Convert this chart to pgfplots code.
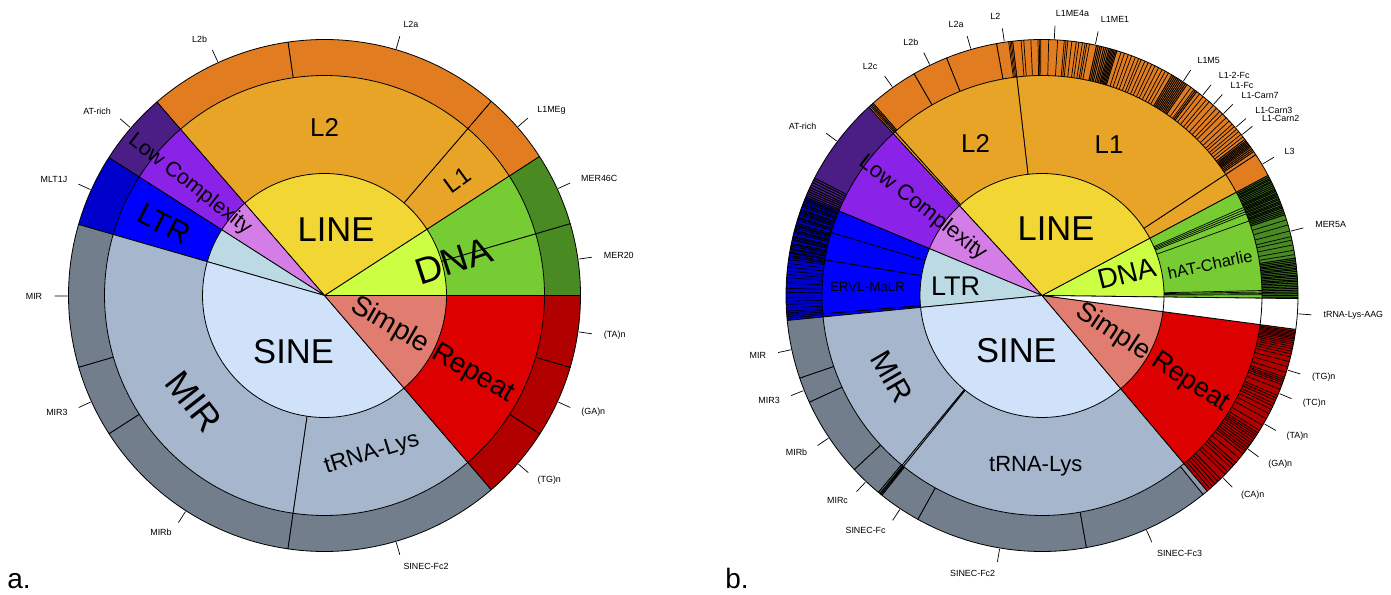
\documentclass[border=0pt]{standalone}
\usepackage{pgfplots}
\pgfplotsset{compat=1.18}
\usepackage{fontspec}
\setmainfont{Liberation Sans}
\definecolor{lineA}{RGB}{242,214,52}
\definecolor{lineB}{RGB}{232,164,39}
\definecolor{lineC}{RGB}{225,125,32}
\definecolor{dnaA}{RGB}{204,255,68}
\definecolor{dnaB}{RGB}{118,204,50}
\definecolor{dnaC}{RGB}{74,138,34}
\definecolor{srA}{RGB}{225,125,112}
\definecolor{srB}{RGB}{220,0,0}
\definecolor{srC}{RGB}{176,0,0}
\definecolor{sineA}{RGB}{207,226,250}
\definecolor{sineB}{RGB}{166,182,204}
\definecolor{sineC}{RGB}{114,126,140}
\definecolor{sineD}{RGB}{140,154,171}
\definecolor{ltrA}{RGB}{188,218,228}
\definecolor{ltrB}{RGB}{0,0,255}
\definecolor{ltrC}{RGB}{0,0,205}
\definecolor{lowA}{RGB}{213,125,230}
\definecolor{lowB}{RGB}{138,34,232}
\definecolor{lowC}{RGB}{74,30,133}
\newcommand{\lab}{\fontsize{4.45}{5}\selectfont}
\newcommand{\fs}[1]{\fontsize{#1}{#1}\selectfont}
% sector: cx, cy, r, a1, a2, colour
\newcommand{\sect}[6]{%
\addplot[fill=#6, draw=black, line width=0.4pt, line join=round, variable=\t, samples at={-1,0,1,...,48,49}]
 ({ifthenelse(or(\t<0,\t>48), #1, #1+#3*cos((#4)+((#5)-(#4))*\t/48))},
  {ifthenelse(or(\t<0,\t>48), #2, #2+#3*sin((#4)+((#5)-(#4))*\t/48))});}
% radial lines: cx, cy, rin, rout, width, list of angles
\newcommand{\rlines}[6]{%
\pgfplotsinvokeforeach{#6}{\addplot[black, line width=#5, variable=\t, samples at={#3,#4}] ({#1+\t*cos(##1)},{#2+\t*sin(##1)});}}
% outer label: cx, cy, angle, anchor, text
\newcommand{\olab}[5]{%
\addplot[black, line width=0.35pt, variable=\t, samples at={257,270}] ({#1+\t*cos(#3)},{#2+\t*sin(#3)}) node[pos=1, anchor=#4, inner sep=0pt, shift={(#3:6pt)}, font=\lab] {#5};}
\begin{document}
\begin{tikzpicture}
\begin{axis}[x=0.5pt, y=0.5pt, xmin=0, xmax=1391, ymin=0, ymax=594, hide axis, clip=false]
\addplot[draw=none] coordinates {(0,0) (1391,594)};
%%%%%%%%%%%%%%%% PANEL A  centre (324.5,298.5)
% level 3
\sect{324.5}{298.5}{256}{0}{16.3}{dnaC}
\sect{324.5}{298.5}{256}{16.3}{32.9}{dnaC}
\sect{324.5}{298.5}{256}{32.9}{49.35}{lineC}
\sect{324.5}{298.5}{256}{49.35}{98.2}{lineC}
\sect{324.5}{298.5}{256}{98.2}{130.9}{lineC}
\sect{324.5}{298.5}{256}{130.9}{147.4}{lowC}
\sect{324.5}{298.5}{256}{147.4}{163.9}{ltrC}
\sect{324.5}{298.5}{256}{163.9}{196.3}{sineC}
\sect{324.5}{298.5}{256}{196.3}{212.7}{sineC}
\sect{324.5}{298.5}{256}{212.7}{261.8}{sineC}
\sect{324.5}{298.5}{256}{261.8}{310.65}{sineC}
\sect{324.5}{298.5}{256}{310.65}{327.3}{srC}
\sect{324.5}{298.5}{256}{327.3}{343.7}{srC}
\sect{324.5}{298.5}{256}{343.7}{360}{srC}
% level 2
\sect{324.5}{298.5}{220}{0}{16.3}{dnaB}
\sect{324.5}{298.5}{220}{16.3}{32.9}{dnaB}
\sect{324.5}{298.5}{220}{32.9}{49.35}{lineB}
\sect{324.5}{298.5}{220}{49.35}{130.9}{lineB}
\sect{324.5}{298.5}{220}{130.9}{147.4}{lowB}
\sect{324.5}{298.5}{220}{147.4}{163.9}{ltrB}
\sect{324.5}{298.5}{220}{163.9}{261.8}{sineB}
\sect{324.5}{298.5}{220}{261.8}{310.65}{sineB}
\sect{324.5}{298.5}{220}{310.65}{360}{srB}
% level 1
\sect{324.5}{298.5}{122}{0}{32.9}{dnaA}
\sect{324.5}{298.5}{122}{32.9}{130.9}{lineA}
\sect{324.5}{298.5}{122}{130.9}{147.4}{lowA}
\sect{324.5}{298.5}{122}{147.4}{163.9}{ltrA}
\sect{324.5}{298.5}{122}{163.9}{310.65}{sineA}
\sect{324.5}{298.5}{122}{310.65}{360}{srA}
% outer labels
\olab{324.5}{298.5}{8.15}{west}{MER20}
\olab{324.5}{298.5}{24.6}{west}{MER46C}
\olab{324.5}{298.5}{41.1}{west}{L1MEg}
\olab{324.5}{298.5}{73.8}{west}{L2a}
\olab{324.5}{298.5}{114.55}{east}{L2b}
\olab{324.5}{298.5}{139.15}{east}{AT-rich}
\olab{324.5}{298.5}{155.65}{east}{MLT1J}
\olab{324.5}{298.5}{180.1}{east}{MIR}
\olab{324.5}{298.5}{204.5}{east}{MIR3}
\olab{324.5}{298.5}{237.25}{east}{MIRb}
\olab{324.5}{298.5}{286.2}{west}{SINEC-Fc2}
\olab{324.5}{298.5}{319}{west}{(TG)n}
\olab{324.5}{298.5}{335.5}{west}{(GA)n}
\olab{324.5}{298.5}{351.85}{west}{(TA)n}
% inner labels
\node[font=\fs{17.25}] at (axis cs:336,364) {LINE};
\node[font=\fs{17.25}] at (axis cs:293.5,242.5) {SINE};
\node[font=\fs{12.9}] at (axis cs:324.5,467) {L2};
\node[font=\fs{11.8}, rotate=36] at (axis cs:457.5,414) {L1};
\node[font=\fs{18.5}, rotate=18] at (axis cs:453.5,333) {DNA};
\node[font=\fs{10.6}, rotate=-38] at (axis cs:190,409.5) {Low Complexity};
\node[font=\fs{15}, rotate=-27] at (axis cs:164,370) {LTR};
\node[font=\fs{18}, rotate=-52] at (axis cs:194,192.5) {MIR};
\node[font=\fs{11.5}, rotate=17] at (axis cs:372,140) {tRNA-Lys};
\node[font=\fs{14}, rotate=-30] at (axis cs:432.5,244) {Simple Repeat};
\node[font=\fs{14}, anchor=base west, inner sep=0pt] at (axis cs:7,5) {a.};
%%%%%%%%%%%%%%%% PANEL B  centre (1042,298.5)
% level 3
\sect{1042}{298.5}{256}{-0.7}{28}{dnaC}
\sect{1042}{298.5}{256}{28}{33.4}{lineC}
\sect{1042}{298.5}{256}{33.4}{96.6}{lineC}
\sect{1042}{298.5}{256}{96.6}{100.25}{lineC}
\sect{1042}{298.5}{256}{100.25}{111.9}{lineC}
\sect{1042}{298.5}{256}{111.9}{120}{lineC}
\sect{1042}{298.5}{256}{120}{131.3}{lineC}
\sect{1042}{298.5}{256}{131.3}{131.9}{lineC}
\sect{1042}{298.5}{256}{131.9}{132.6}{lineC}
\sect{1042}{298.5}{256}{132.6}{152.7}{lowC}
\sect{1042}{298.5}{256}{152.7}{157.4}{lowC}
\sect{1042}{298.5}{256}{157.4}{185.6}{ltrC}
\sect{1042}{298.5}{256}{185.6}{198.85}{sineC}
\sect{1042}{298.5}{256}{198.85}{204.65}{sineC}
\sect{1042}{298.5}{256}{204.65}{222.85}{sineC}
\sect{1042}{298.5}{256}{222.85}{230.3}{sineC}
\sect{1042}{298.5}{256}{230.3}{230.7}{sineC}
\sect{1042}{298.5}{256}{230.7}{231.0}{sineC}
\sect{1042}{298.5}{256}{231.0}{231.3}{sineC}
\sect{1042}{298.5}{256}{231.3}{241}{sineC}
\sect{1042}{298.5}{256}{241}{280}{sineC}
\sect{1042}{298.5}{256}{280}{309}{sineC}
\sect{1042}{298.5}{256}{309}{310.2}{sineD}
\sect{1042}{298.5}{256}{310.2}{352.4}{srC}
\sect{1042}{298.5}{256}{352.4}{359.3}{white}
% level 3 stripes
\rlines{1042}{298.5}{220}{256}{0.35pt}{96.9,97.2,97.5,94.7,94.1,92.5,90.9,90.6,90.3,88.5,86.5,85.0,84.6,84.2,83.3,82.3,81.7,80.9,80.3,79.9,79.3,72.0,71.2,70.3,69.5,68.6,67.8,67.2,66.3,65.5,64.6,63.8,62.9,62.0,61.2,60.4,54.4,53.6,52.0,51.0,50.0,49.2,48.0,47.0,46.0,45.2,44.0,43.0,42.0,41.3,40.5,39.8,39.0,38.3,131.6,132.2}
\rlines{1042}{298.5}{220}{256}{0.5pt}{77.7,77.3,76.9,76.5,76.0,75.6,75.2,74.8,74.5,74.2,73.9,73.6,73.3,73.0,59.5,59.1,58.7,58.3,57.9,57.5,57.1,56.7,56.3,55.9,55.5,53.2,52.8,37.6,37.2,36.9,36.6,36.3,36.0,35.7,35.4,35.0,34.6,34.2}
\rlines{1042}{298.5}{220}{256}{0.5pt}{153.2,153.8,154.4,155.0,155.5,156.0,156.5,157.0,157.8,158.1,158.5,159.0,159.3,159.7,160.3,160.6,161.0,161.2,161.6,162.2,162.5,162.9,163.6,164.0,164.3,164.7,165.2,165.5,165.9,166.6,166.9,167.3,167.6,168.2,168.5,168.9,169.4,169.7,170.2,170.5,171.0,171.4,171.9}
\rlines{1042}{298.5}{220}{256}{0.35pt}{172.8,173.6,174.5,175.3,176.0,177.2,178.4,179.3,180.5,181.3,182.0,182.8,183.5,183.9,184.3,184.7,185.1}
\rlines{1042}{298.5}{220}{256}{0.5pt}{27.6,27.2,26.9,26.5,26.2,25.8,25.4,25.0,24.6,24.3,24.0,23.6,23.3,23.0,22.7,22.3,22.0,21.6,21.3,21.0,20.6,20.3,20.0,19.6,19.2,18.8,18.4,8.4,8.0,7.6,7.2,6.9,6.5,6.1,5.8,5.4,5.0,4.6,4.3,3.9,3.5,3.2,2.8,2.4,2.0,1.6,1.2,0.8,0.4,0.0,-0.4}
\rlines{1042}{298.5}{220}{256}{0.35pt}{17.2,16.0,14.6,13.3,12.5,11.4,10.2,9.2}
\rlines{1042}{298.5}{220}{256}{0.35pt}{-8.0,-8.3,-8.6,-8.9,-9.2,-9.5,-9.8,-10.2,-10.6,-11.0,-11.5,-12.0,-12.6,-13.2,-13.9,-15.0,-16.2,-17.5,-18.6,-19.1,-19.5,-19.9,-20.4,-21.5,-23.0,-23.6,-24.2,-25.0,-25.6,-26.4,-27.5,-28.8,-30.5,-31.8,-32.5,-33.0,-33.5,-34.0,-34.6,-35.2,-35.8,-36.4,-37.0,-37.5,-38.2,-39.5,-40.8,-41.5,-42.3,-43.5,-44.3,-45.8,-46.6,-47.4,-48.2,-49.0}
% level 2
\sect{1042}{298.5}{220}{-0.7}{28}{dnaB}
\sect{1042}{298.5}{220}{28}{33.4}{lineB}
\sect{1042}{298.5}{220}{33.4}{96.6}{lineB}
\sect{1042}{298.5}{220}{96.6}{131.9}{lineB}
\sect{1042}{298.5}{220}{131.9}{132.6}{lineB}
\sect{1042}{298.5}{220}{132.6}{157.4}{lowB}
\sect{1042}{298.5}{220}{157.4}{163.4}{ltrB}
\sect{1042}{298.5}{220}{163.4}{170.7}{ltrB}
\sect{1042}{298.5}{220}{170.7}{184.8}{ltrB}
\sect{1042}{298.5}{220}{184.8}{185.6}{ltrB}
\sect{1042}{298.5}{220}{185.6}{230.5}{sineB}
\sect{1042}{298.5}{220}{230.5}{231.0}{sineB}
\sect{1042}{298.5}{220}{231.0}{310.2}{sineB}
\sect{1042}{298.5}{220}{310.2}{352.4}{srB}
\sect{1042}{298.5}{220}{352.4}{359.3}{white}
\rlines{1042}{298.5}{122}{220}{0.35pt}{19.8,21.8,22.4,23.0,23.6,0.2,0.5,0.9,1.3}
% level 1
\sect{1042}{298.5}{122}{-0.7}{28}{dnaA}
\sect{1042}{298.5}{122}{28}{132.6}{lineA}
\sect{1042}{298.5}{122}{132.6}{157.4}{lowA}
\sect{1042}{298.5}{122}{157.4}{185.6}{ltrA}
\sect{1042}{298.5}{122}{185.6}{310.2}{sineA}
\sect{1042}{298.5}{122}{310.2}{352.4}{srA}
\sect{1042}{298.5}{122}{352.4}{359.3}{white}
% outer labels
\olab{1042}{298.5}{125.65}{east}{L2c}
\olab{1042}{298.5}{115.95}{east}{L2b}
\olab{1042}{298.5}{106.1}{east}{L2a}
\olab{1042}{298.5}{98.45}{east}{L2}
\olab{1042}{298.5}{87.25}{west}{L1ME4a}
\olab{1042}{298.5}{78.0}{west}{L1ME1}
\olab{1042}{298.5}{56.6}{west}{L1M5}
\olab{1042}{298.5}{51.25}{west}{L1-2-Fc}
\olab{1042}{298.5}{48.1}{west}{L1-Fc}
\olab{1042}{298.5}{45.05}{west}{L1-Carn7}
\olab{1042}{298.5}{40.95}{west}{L1-Carn3}
\olab{1042}{298.5}{38.8}{west}{L1-Carn2}
\olab{1042}{298.5}{30.8}{west}{L3}
\olab{1042}{298.5}{14.5}{west}{MER5A}
\olab{1042}{298.5}{-4.1}{west}{tRNA-Lys-AAG}
\olab{1042}{298.5}{-16.9}{west}{(TG)n}
\olab{1042}{298.5}{-22.45}{west}{(TC)n}
\olab{1042}{298.5}{-30.0}{west}{(TA)n}
\olab{1042}{298.5}{-36.7}{west}{(GA)n}
\olab{1042}{298.5}{-45.2}{west}{(CA)n}
\olab{1042}{298.5}{294.0}{west}{SINEC-Fc3}
\olab{1042}{298.5}{260.5}{east}{SINEC-Fc2}
\olab{1042}{298.5}{236.4}{east}{SINEC-Fc}
\olab{1042}{298.5}{226.6}{east}{MIRc}
\olab{1042}{298.5}{213.75}{east}{MIRb}
\olab{1042}{298.5}{201.75}{east}{MIR3}
\olab{1042}{298.5}{192.2}{east}{MIR}
\olab{1042}{298.5}{143.05}{east}{AT-rich}
% inner labels
\node[font=\fs{17.25}] at (axis cs:1056,365.6) {LINE};
\node[font=\fs{17.25}] at (axis cs:1016.4,243.6) {SINE};
\node[font=\fs{12.9}] at (axis cs:975.5,450.8) {L2};
\node[font=\fs{12.9}] at (axis cs:1109,449) {L1};
\node[font=\fs{14}, rotate=14] at (axis cs:1126.6,320.5) {DNA};
\node[font=\fs{8.25}, rotate=12] at (axis cs:1210,329.6) {hAT-Charlie};
\node[font=\fs{11}, rotate=-38] at (axis cs:922.6,385.7) {Low Complexity};
\node[font=\fs{13.5}] at (axis cs:955.6,307.3) {LTR};
\node[font=\fs{6.7}] at (axis cs:867.5,307.3) {ERVL-MaLR};
\node[font=\fs{15}, rotate=-60] at (axis cs:891.7,217.3) {MIR};
\node[font=\fs{11}] at (axis cs:1035.8,128) {tRNA-Lys};
\node[font=\fs{13.5}, rotate=-33] at (axis cs:1152.6,236) {Simple Repeat};
\node[font=\fs{14}, anchor=base west, inner sep=0pt] at (axis cs:725,5) {b.};
\end{axis}
\end{tikzpicture}
\end{document}
